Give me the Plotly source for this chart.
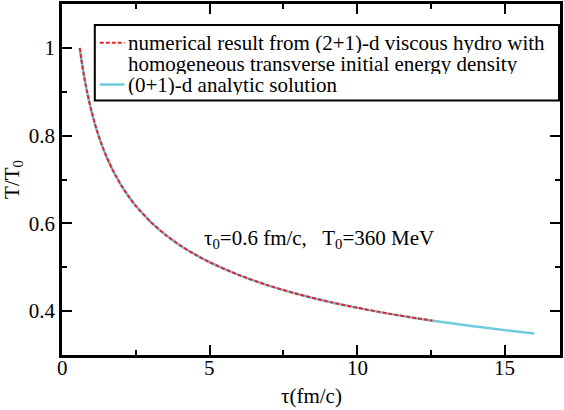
import plotly.graph_objects as go

# (0+1)-d analytic solution
tau_analytic = [0.6, 0.65, 0.7, 0.75, 0.8, 0.85, 0.9, 1.0, 1.1, 1.2, 1.3, 1.4, 1.5, 1.6, 1.7,
                1.8, 2.0, 2.25, 2.5, 3.0, 3.5, 4.0, 4.5,
                5.0, 6.0, 7.0, 8.0, 9.0, 10.0, 11.0, 12.0, 13.0, 14.0, 15.0, 16.0]
T_analytic = [1.0, 0.9761, 0.9544, 0.9346, 0.9163, 0.8994, 0.8837, 0.8553, 0.8303, 0.8080,
              0.7880, 0.7698, 0.7532, 0.7380, 0.7239, 0.7110, 0.6874, 0.6620, 0.6400,
              0.6036, 0.5742, 0.5499, 0.5293, 0.5114, 0.4820, 0.4582, 0.4386, 0.4220,
              0.4077, 0.3949, 0.3839, 0.3739, 0.3650, 0.3567, 0.3492]

# numerical result from (2+1)-d viscous hydro
tau_num = [0.6, 0.65, 0.7, 0.75, 0.8, 0.85, 0.9, 1.0, 1.1, 1.2, 1.3, 1.4, 1.5, 1.6, 1.7,
           1.8, 2.0, 2.25, 2.5, 3.0, 3.5, 4.0, 4.5,
           5.0, 6.0, 7.0, 8.0, 9.0, 10.0, 11.0, 12.0, 12.55]
T_num = [1.0, 0.9761, 0.9544, 0.9346, 0.9163, 0.8994, 0.8837, 0.8553, 0.8303, 0.8080,
         0.7880, 0.7698, 0.7532, 0.7380, 0.7239, 0.7110, 0.6874, 0.6620, 0.6400,
         0.6036, 0.5742, 0.5499, 0.5293, 0.5114, 0.4820, 0.4582, 0.4386, 0.4220,
         0.4077, 0.3949, 0.3839, 0.3782]

x_tick_vals = [0, 5, 10, 15]
x_tick_text = ["0", "5", "10", "15"]

RED = "#ee2229"
CYAN = "#6fcbdc"
FONT = "Liberation Serif"
FS = 21

fig = go.Figure()
fig.add_trace(go.Scatter(x=tau_analytic, y=T_analytic, mode="lines",
                         line=dict(color=CYAN, width=2.5, shape="spline", smoothing=0.6),
                         showlegend=False))
fig.add_trace(go.Scatter(x=tau_num, y=T_num, mode="lines",
                         line=dict(color=RED, width=2, dash="4px,2px", shape="spline", smoothing=0.6),
                         showlegend=False))

L, R, T, B = 62, 1, 2, 55
W, H = 564, 410
pw, ph = W - L - R, H - T - B

def px(xp):
    return (xp - L) / pw

def py(yp):
    return (H - B - yp) / ph

# manual legend
fig.add_shape(type="rect", xref="paper", yref="paper",
              x0=px(95), x1=px(562), y0=py(99), y1=py(23),
              line=dict(color="black", width=2), fillcolor="white", layer="above")
fig.add_shape(type="line", xref="paper", yref="paper",
              x0=px(100), x1=px(125), y0=py(41), y1=py(41),
              line=dict(color=RED, width=2, dash="4px,2px"))
fig.add_shape(type="line", xref="paper", yref="paper",
              x0=px(100), x1=px(125), y0=py(83), y1=py(83),
              line=dict(color=CYAN, width=2.5))
legend_lines = [
    ("numerical result from (2+1)-d viscous hydro with", 41),
    ("homogeneous transverse initial energy density", 62),
    ("(0+1)-d analytic solution", 83),
]
for txt, yp in legend_lines:
    fig.add_annotation(text=txt, xref="paper", yref="paper", x=px(127), y=py(yp),
                       xanchor="left", yanchor="middle", showarrow=False,
                       height=21, valign="middle", borderpad=0,
                       font=dict(family=FONT, size=FS, color="black"))

fig.add_annotation(text="τ<sub>0</sub>=0.6 fm/c,   T<sub>0</sub>=360 MeV",
                   x=4.75, y=0.565, xanchor="left", yanchor="middle", showarrow=False,
                   font=dict(family=FONT, size=FS, color="black"))

# x tick labels and x title
for v, t in zip(x_tick_vals, x_tick_text):
    fig.add_annotation(text=t, x=v, xref="x", y=py(368), yref="paper",
                       xanchor="center", yanchor="middle", showarrow=False,
                       font=dict(family=FONT, size=FS, color="black"))
fig.add_annotation(text="τ(fm/c)", x=0.5, xref="paper", y=py(396), yref="paper",
                   xanchor="center", yanchor="middle", showarrow=False,
                   font=dict(family=FONT, size=FS, color="black"))

axis_common = dict(showline=True, linecolor="black", linewidth=2.5, mirror="allticks",
                   ticks="inside", ticklen=10, tickwidth=2, tickcolor="black",
                   showgrid=False, zeroline=False,
                   tickfont=dict(family=FONT, size=FS, color="black"))

fig.update_xaxes(range=[0, 16.87], dtick=5, tick0=0, showticklabels=False,
                 minor=dict(dtick=2.5, ticks="inside", ticklen=5, tickwidth=2, tickcolor="black"),
                 **axis_common)
fig.update_yaxes(range=[0.3, 1.1], dtick=0.2, tick0=0,
                 minor=dict(dtick=0.1, ticks="inside", ticklen=5, tickwidth=2, tickcolor="black"),
                 title=dict(text="T/T<sub>0</sub>", font=dict(family=FONT, size=FS, color="black"), standoff=6),
                 **axis_common)

fig.update_layout(width=W, height=H, margin=dict(l=L, r=R, t=T, b=B),
                  plot_bgcolor="white", paper_bgcolor="white", showlegend=False)

fig.write_html("out.html")
